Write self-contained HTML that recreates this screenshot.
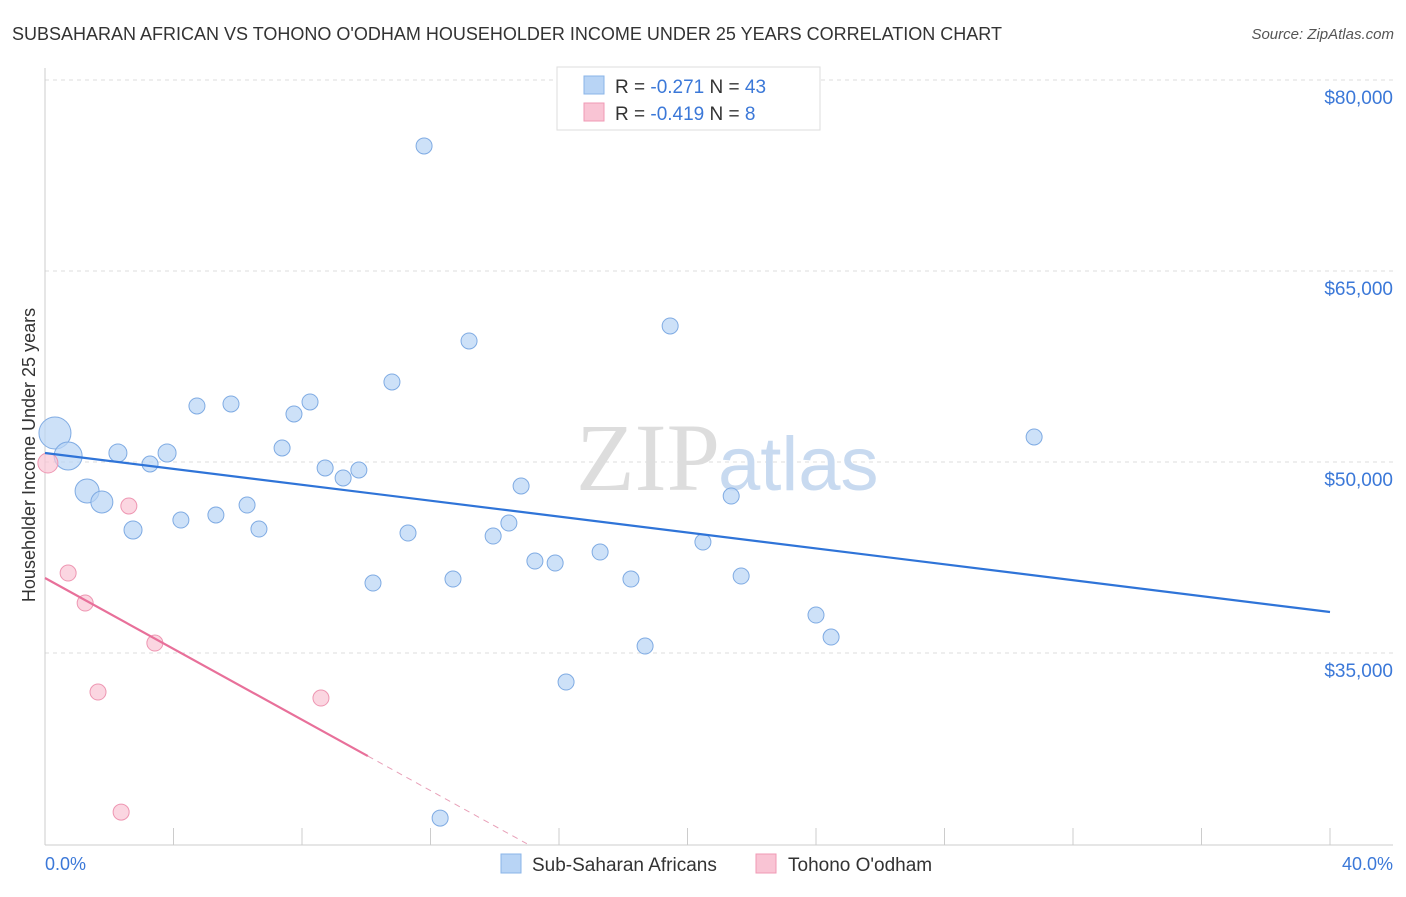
<!DOCTYPE html>
<html><head><meta charset="utf-8"><style>
body{margin:0;background:#fff;font-family:"Liberation Sans",sans-serif;}
</style></head><body>
<svg width="1406" height="892" viewBox="0 0 1406 892" xmlns="http://www.w3.org/2000/svg" style="font-family:'Liberation Sans',sans-serif">
<text x="12" y="40" font-size="18" fill="#333">SUBSAHARAN AFRICAN VS TOHONO O'ODHAM HOUSEHOLDER INCOME UNDER 25 YEARS CORRELATION CHART</text>
<text x="1394" y="39" font-size="15" fill="#555" font-style="italic" text-anchor="end">Source: ZipAtlas.com</text>
<g id="grid"></g>
<g id="axes"></g>
<text x="720" y="490" font-size="96" fill="#ddd" text-anchor="end" font-family="Liberation Serif">ZIP</text>
<text x="718" y="490" font-size="76" fill="#c8daf0">atlas</text>
<g id="marks"></g>
<text x="35" y="455" font-size="18" fill="#333" text-anchor="middle" transform="rotate(-90 35 455)">Householder Income Under 25 years</text>
<text x="45" y="870" font-size="18" fill="#3b78d8">0.0%</text>
<text x="1393" y="870" font-size="18" fill="#3b78d8" text-anchor="end">40.0%</text>
<g>
<rect x="557" y="67" width="263" height="63" fill="#fff" stroke="#ddd"/>
<rect x="584" y="76" width="20" height="18" fill="#b8d4f5" stroke="#8ab4e8"/>
<rect x="584" y="103" width="20" height="18" fill="#f9c4d4" stroke="#f09ab5"/>
<text x="615" y="93" font-size="19" fill="#333">R = <tspan fill="#3b78d8">-0.271</tspan>   N = <tspan fill="#3b78d8">43</tspan></text>
<text x="615" y="120" font-size="19" fill="#333">R = <tspan fill="#3b78d8">-0.419</tspan>   N = <tspan fill="#3b78d8">  8</tspan></text>
</g>
<g>
<rect x="501" y="854" width="20" height="19" fill="#b8d4f5" stroke="#8ab4e8"/>
<text x="532" y="871" font-size="19" fill="#333">Sub-Saharan Africans</text>
<rect x="756" y="854" width="20" height="19" fill="#f9c4d4" stroke="#f09ab5"/>
<text x="788" y="871" font-size="19" fill="#333">Tohono O'odham</text>
</g>
</svg>
<script>
const yTicks=[35000,50000,65000,80000];
const yTickLabels=["$35,000","$50,000","$65,000","$80,000"];
const xTicks=[0,4,8,12,16,20,24,28,32,36,40];
const blueX=[0.31,0.72,1.31,1.77,2.27,2.74,3.27,3.80,4.23,4.73,5.32,5.79,6.29,6.66,7.38,7.75,8.25,8.72,9.28,9.77,10.21,10.80,11.30,11.80,12.70,13.20,13.95,14.44,14.82,15.25,15.88,16.22,17.28,18.24,18.68,19.46,20.48,21.36,21.67,24.00,24.47,30.79,12.30];
const blueY=[52278,50471,47722,46858,50707,44659,49843,50707,45444,54399,45837,54556,46622,44737,51100,53770,54713,49529,48743,49372,40495,56284,44423,74822,40810,59505,44187,45208,48115,42224,42067,32719,42930,40810,35547,60683,43716,47329,41045,37982,36254,51964,22036];
const blueSize=[16,14,12,11,9,9,8,9,8,8,8,8,8,8,8,8,8,8,8,8,8,8,8,8,8,8,8,8,8,8,8,8,8,8,8,8,8,8,8,8,8,8,8];
const pinkX=[0.09,0.72,1.25,1.65,2.61,3.42,2.37,8.59];
const pinkY=[49921,41281,38924,31933,46544,35782,22507,31462];
const pinkSize=[10,8,8,8,8,8,8,8];
const blueTrend=[[0,50707],[40,38218]];
const pinkTrend=[[0,40888],[10.05,26906]];
const pinkTrendDash=[[10.05,26906],[15,20020]];
const X=v=>45+v/40*1285;
const Y=v=>462-(v-50000)*0.012733;
const NS="http://www.w3.org/2000/svg";
function mk(p,t,a){const e=document.createElementNS(NS,t);for(const k in a)e.setAttribute(k,a[k]);p.appendChild(e);return e;}
const grid=document.getElementById('grid'),axes=document.getElementById('axes'),marks=document.getElementById('marks');
yTicks.forEach((v,i)=>{
 const l=mk(grid,'line',{x1:45,x2:1393,y1:Y(v),y2:Y(v),stroke:'#ddd','stroke-dasharray':'4,4'});
 
 
 const t=mk(axes,'text',{x:1393,y:Y(v)+24,'font-size':19,fill:'#3b78d8','text-anchor':'end'});
 t.textContent=yTickLabels[i];
 
 
});
const ax=mk(axes,'line',{x1:45,x2:45,y1:68,y2:845,stroke:'#ccc'});


const bx=mk(axes,'line',{x1:45,x2:1393,y1:845,y2:845,stroke:'#ccc'});


xTicks.forEach(v=>{
 const t=mk(axes,'line',{x1:X(v),x2:X(v),y1:828,y2:845,stroke:'#ccc'});
 
 
});
function pts(xs,ys,ss,fill,stroke,name){
 xs.forEach((x,i)=>{
  const c=mk(marks,'circle',{cx:X(x),cy:Y(ys[i]),r:ss[i],fill:fill,stroke:stroke,'stroke-width':1,'fill-opacity':0.7});
  
  
 });
}
pts(blueX,blueY,blueSize,'#b8d4f5','#7fabe3','point-subsaharan');
pts(pinkX,pinkY,pinkSize,'#f9c4d4','#ee96b2','point-tohono');
function ln(d,col,dash,name){
 const l=mk(marks,'line',{x1:X(d[0][0]),y1:Y(d[0][1]),x2:X(d[1][0]),y2:Y(d[1][1]),stroke:col,'stroke-width':dash?1:2.2});
 if(dash)l.setAttribute('stroke-dasharray','6,5');
 
 
}
ln(blueTrend,'#2f74d8',false,'trend-subsaharan');
ln(pinkTrend,'#e8709a',false,'trend-tohono');
ln(pinkTrendDash,'#e8a0b8',true,'trend-tohono-extension');
</script>
</body></html>
